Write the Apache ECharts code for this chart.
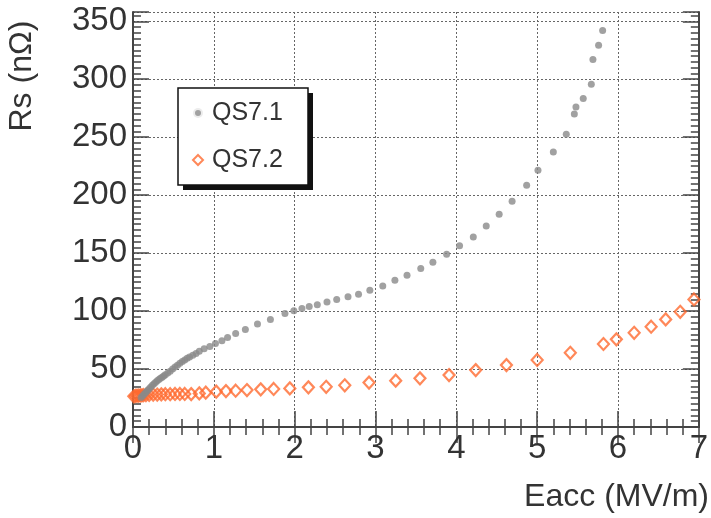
<!DOCTYPE html>
<html>
<head>
<meta charset="utf-8">
<script src="https://cdn.jsdelivr.net/npm/echarts@6/dist/echarts.min.js"></script>
<style>html,body{margin:0;padding:0;background:#fff;}#c{width:711px;height:518px;}</style>
</head>
<body>
<div id="c"></div>
<script>
// ---- data ----
const seriesNames = ['QS7.1', 'QS7.2'];
const xTickLabels = ['0', '1', '2', '3', '4', '5', '6', '7'];
const yTickLabels = ['0', '50', '100', '150', '200', '250', '300', '350'];
const xTitle = 'Eacc (MV/m)';
const yTitle = 'Rs (nΩ)';

// QS7.1 : [Eacc, Rs]
const qs71 = [
  [0.10,25.5],[0.12,27],[0.14,28.5],[0.16,30],[0.18,31.5],[0.20,33],[0.22,34.5],[0.24,36],
  [0.26,37.3],[0.28,38.6],[0.30,39.8],[0.32,41],[0.34,42],[0.36,43],[0.38,44],[0.40,45],
  [0.43,46.5],[0.46,48.2],[0.49,50],[0.52,51.7],[0.55,53.3],[0.58,55],[0.61,56.4],[0.64,57.8],
  [0.67,59.2],[0.70,60.4],[0.74,62],[0.78,63.5],[0.82,65.3],[0.88,67.5],[0.95,69.5],[1.02,72],
  [1.10,74.5],[1.17,77.3],[1.27,80.7],[1.39,84.2],[1.54,88.8],[1.70,92.8],[1.88,98],[1.99,100.3],
  [2.09,102.3],[2.18,104],[2.28,105.5],[2.40,107.8],[2.52,110],[2.66,112.3],[2.79,114.6],[2.93,118],
  [3.09,121.6],[3.24,126.7],[3.39,131],[3.56,136.8],[3.71,142.2],[3.88,149],[4.04,156.3],[4.21,164],
  [4.37,173.3],[4.53,183.6],[4.69,194.8],[4.87,208.6],[5.01,221.5],[5.20,237.3],[5.36,252.6],
  [5.46,270],[5.48,276],[5.57,283.3],[5.67,295.7],[5.69,317],[5.76,329.3],[5.81,342]
];
// QS7.2 : [Eacc, Rs]
const qs72 = [
  [0.01,26.5],[0.03,26.8],[0.05,27],[0.07,27],[0.09,27.2],[0.11,27.3],[0.13,27.5],[0.16,27.6],
  [0.20,27.8],[0.25,28],[0.30,28],[0.35,28.2],[0.40,28.3],[0.46,28.3],[0.52,28.5],[0.58,28.5],
  [0.64,28.5],[0.72,28.4],[0.82,29],[0.90,29.6],[1.03,30.5],[1.15,31],[1.27,31.3],[1.41,31.9],
  [1.58,32.5],[1.74,32.8],[1.94,33.3],[2.17,34.2],[2.39,34.7],[2.62,36],[2.92,38.3],[3.25,40],
  [3.55,42],[3.91,44.8],[4.24,49.1],[4.62,53.4],[5.00,57.8],[5.41,64],[5.82,71.6],[5.98,75.6],
  [6.20,81.3],[6.41,86.5],[6.59,92.8],[6.77,99.4],[6.94,110]
];

// ---- chart ----
const FONT = 'Liberation Sans, Arial, sans-serif';
const TXT = '#333';
const AX = '#444';
const GRAY = '#8a8a8a';
const ORANGE = '#ff6a30';
const X_MIN = 0, X_MAX = 7, Y_MIN = 0, Y_MAX = 358;

function xAx(pos, labels) {
  return {
    type: 'value', position: pos, min: X_MIN, max: X_MAX, interval: 1,
    axisLine: { show: true, lineStyle: { color: AX, width: 2 } },
    axisTick: { show: true, inside: true, length: 16, lineStyle: { color: AX, width: 1.5 } },
    minorTick: { show: true, splitNumber: 5, length: 8, lineStyle: { color: AX, width: 1.5 } },
    splitLine: { show: labels, lineStyle: { color: '#666', type: [2, 2], width: 1 } },
    axisLabel: labels ? {
      show: true, fontSize: 33, color: TXT, fontFamily: FONT, margin: 5,
      formatter: v => xTickLabels[Math.round(v)] || ''
    } : { show: false }
  };
}
function yMajor(pos, labels) {
  return {
    type: 'value', position: pos, min: Y_MIN, max: Y_MAX, interval: 50,
    axisLine: { show: true, lineStyle: { color: AX, width: 2 } },
    axisTick: { show: true, inside: true, length: 16, lineStyle: { color: AX, width: 1.5 } },
    splitLine: { show: labels, lineStyle: { color: '#666', type: [2, 2], width: 1 } },
    axisLabel: labels ? {
      show: true, fontSize: 33, color: TXT, fontFamily: FONT, margin: 6,
      formatter: v => (v % 50 === 0 ? (yTickLabels[v / 50] || '') : '')
    } : { show: false }
  };
}
function yMinor(pos) {
  return {
    type: 'value', position: pos, min: Y_MIN, max: Y_MAX, interval: 5,
    axisLine: { show: false },
    axisTick: { show: true, inside: true, length: 8, lineStyle: { color: AX, width: 1.5 } },
    splitLine: { show: false },
    axisLabel: { show: false }
  };
}

const chart = echarts.init(document.getElementById('c'), null, { renderer: 'canvas' });
chart.setOption({
  animation: false,
  backgroundColor: '#fff',
  grid: { left: 133, right: 6, top: 12, bottom: 91, containLabel: false },
  xAxis: [xAx('bottom', true), xAx('top', false)],
  yAxis: [yMajor('left', true), yMinor('left'), yMajor('right', false), yMinor('right')],
  legend: {
    orient: 'vertical', left: 178, top: 88, z: 10,
    data: [
      { name: seriesNames[0], icon: 'circle', itemStyle: { color: GRAY, borderColor: '#fff', borderWidth: 4 } },
      { name: seriesNames[1], icon: 'diamond' }
    ],
    itemWidth: 10, itemHeight: 10, itemGap: 21,
    padding: [12, 22, 12, 13],
    textStyle: { fontSize: 25, color: TXT, fontFamily: FONT, padding: [0, 0, 0, 4], lineHeight: 26 }
  },
  graphic: [
    { type: 'rect', z: 5, shape: { x: 183, y: 93, width: 130, height: 97 }, style: { fill: '#111' } },
    { type: 'rect', z: 6, shape: { x: 178, y: 88, width: 130, height: 97 }, style: { fill: '#fff', stroke: '#111', lineWidth: 1.5 } },
    { type: 'text', x: 22, y: 76, rotation: Math.PI / 2,
      style: { text: yTitle, fontSize: 32, fontFamily: FONT, fill: TXT, textAlign: 'center', textVerticalAlign: 'middle' } },
    { type: 'text', x: 709, y: 497,
      style: { text: xTitle, fontSize: 32, fontFamily: FONT, fill: TXT, textAlign: 'right', textVerticalAlign: 'middle' } }
  ],
  series: [
    { name: seriesNames[0], type: 'scatter', data: qs71, symbol: 'circle', symbolSize: 7, z: 3,
      itemStyle: { color: GRAY } },
    { name: seriesNames[1], type: 'scatter', data: qs72, symbol: 'diamond', symbolSize: [11, 12], z: 2,
      itemStyle: { color: 'rgba(255,255,255,0)', borderColor: ORANGE, borderWidth: 2.2 } }
  ]
});
</script>
</body>
</html>
